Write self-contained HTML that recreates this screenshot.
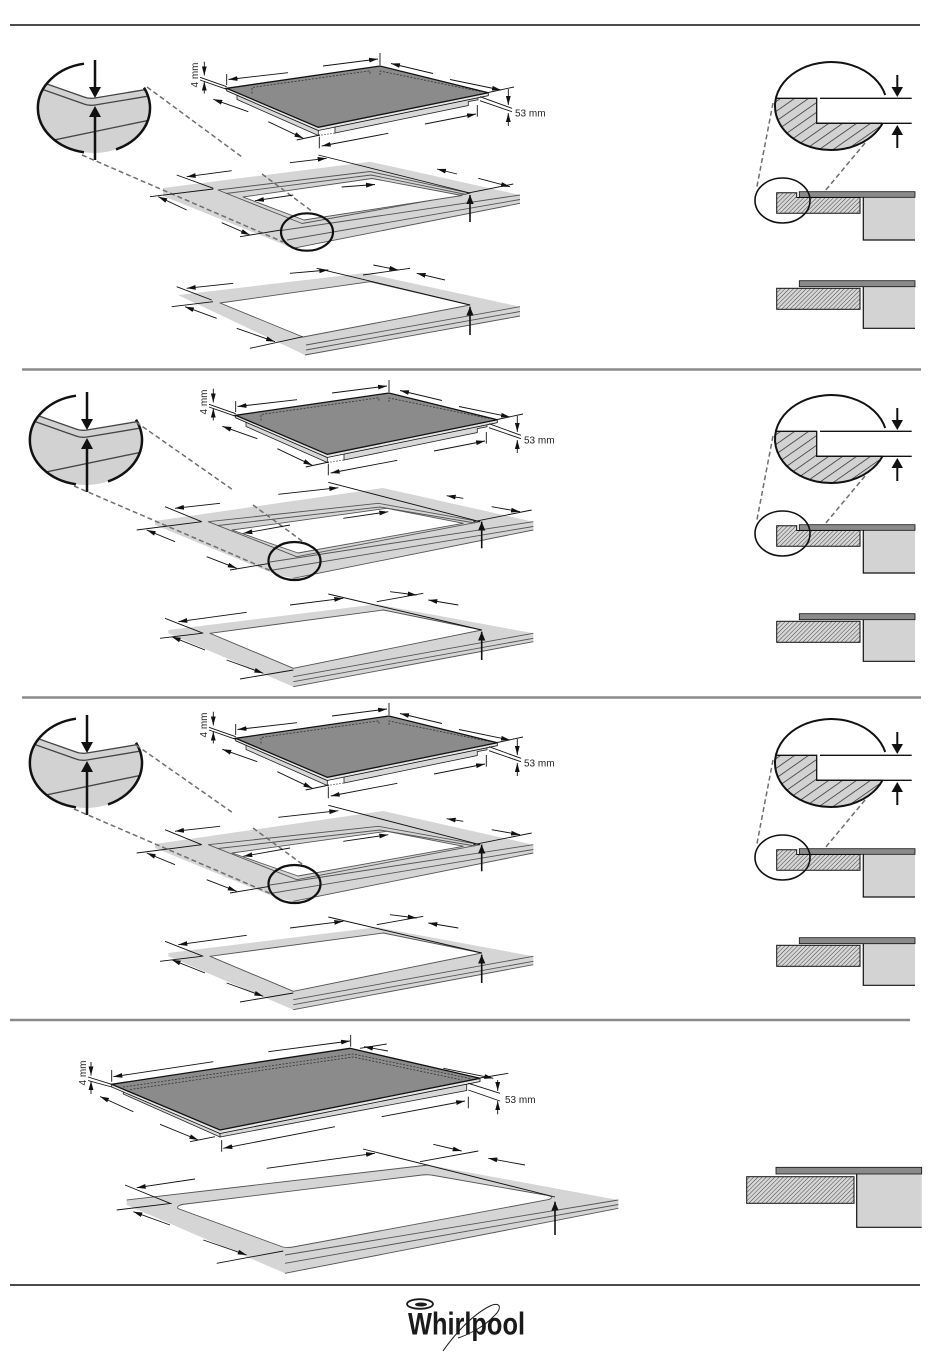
<!DOCTYPE html>
<html><head><meta charset="utf-8"><style>
html,body{margin:0;padding:0;background:#fff;}
svg{display:block;}
text{font-family:"Liberation Sans",sans-serif;}
.k{stroke:#111;stroke-width:0.9;fill:none}
.ka{stroke:#111;stroke-width:0.9;fill:none;marker-end:url(#a)}
.ub{stroke:#111;stroke-width:1.6;fill:none;marker-end:url(#b)}
.g{stroke:#555;stroke-width:0.9;fill:none;stroke-linejoin:round}
.dsh{stroke:#6e6e6e;stroke-width:1.5;stroke-dasharray:5,3;fill:none}
.t{font-size:10px;fill:#222}
</style></head><body>
<svg width="950" height="1360" viewBox="0 0 950 1360" xmlns="http://www.w3.org/2000/svg">
<defs>
<marker id="a" markerUnits="userSpaceOnUse" markerWidth="9" markerHeight="6" refX="9" refY="3" orient="auto"><path d="M0,0.6L9,3L0,5.4z" fill="#111"/></marker>
<marker id="b" markerUnits="userSpaceOnUse" markerWidth="9" markerHeight="9" refX="9" refY="4.5" orient="auto"><path d="M0,0.8L9,4.5L0,8.2z" fill="#111"/></marker>
<pattern id="hb" patternUnits="userSpaceOnUse" width="8" height="8" patternTransform="rotate(55)"><rect width="8" height="8" fill="#d2d2d2"/><line x1="0" y1="0" x2="0" y2="8" stroke="#222" stroke-width="1.4"/></pattern>
<pattern id="hs" patternUnits="userSpaceOnUse" width="3" height="3" patternTransform="rotate(45)"><rect width="3" height="3" fill="#d6d6d6"/><line x1="0" y1="0" x2="0" y2="3" stroke="#333" stroke-width="0.9"/></pattern>
<clipPath id="mc1"><ellipse cx="94" cy="108" rx="56" ry="45"/></clipPath>
<clipPath id="bc1"><ellipse cx="831" cy="106" rx="56" ry="44"/></clipPath>
</defs>

<line x1="10" y1="25" x2="920" y2="25" stroke="#111" stroke-width="1.5"/>
<line x1="22" y1="369.5" x2="921" y2="369.5" stroke="#8a8a8a" stroke-width="2.5"/>
<line x1="22" y1="697.5" x2="921" y2="697.5" stroke="#8a8a8a" stroke-width="2.5"/>
<line x1="10" y1="1020" x2="910" y2="1020" stroke="#8a8a8a" stroke-width="2.5"/>
<line x1="10" y1="1285" x2="920" y2="1285" stroke="#111" stroke-width="1.5"/>

<g id="mag1">
<g clip-path="url(#mc1)">
<path d="M30,78 L84,97 Q89,99 95,98 L155,88 L155,160 L30,160 Z" fill="#d2d2d2"/>
<path d="M30,78 L84,97 Q89,99 95,98 L155,88" fill="none" stroke="#444" stroke-width="1.3"/>
<path d="M30,85 L84,104 Q89,106 95,105 L155,95" fill="none" stroke="#444" stroke-width="1.3"/>
<path d="M30,145 L155,119" fill="none" stroke="#444" stroke-width="1.3"/>
</g>
<path d="M84,63.7 A56,45 0 0,0 84,152.3" fill="none" stroke="#111" stroke-width="2.5"/>
<path d="M116,149.4 A56,45 0 0,0 144,87.7" fill="none" stroke="#111" stroke-width="2.5"/>
<line x1="95" y1="60" x2="95" y2="89" stroke="#111" stroke-width="2.5"/>
<polygon points="89,87 101,87 95,98" fill="#111"/>
<line x1="95" y1="160" x2="95" y2="115" stroke="#111" stroke-width="2.5"/>
<polygon points="89,117 101,117 95,106" fill="#111"/>
</g>
<use href="#mag1" transform="translate(-8,332)"/>
<use href="#mag1" transform="translate(-8,655)"/>

<g id="hob1">
<polygon points="237,95 318.3,130.5 318.3,135.5 237,99.5" fill="#d8d8d8" stroke="#222" stroke-width="0.8"/>
<polygon points="335,126.8 468.3,99.6 478,97.6 478,99.8 468.3,101.6 468.3,105.5 335,133" fill="#d8d8d8" stroke="#222" stroke-width="0.8"/>
<polygon points="226.7,88.3 318.3,127.3 488.3,92.7 488.3,95.7 318.3,130.5 226.7,90.8" fill="#e6e6e6" stroke="#111" stroke-width="0.8"/>
<polygon points="226.7,88.3 380,66 488.3,92.7 318.3,127.3" fill="#8b8b8b" stroke="#111" stroke-width="1.3"/>
<polyline points="252,93.5 252,87.5 370,70.8 370,75" fill="none" stroke="#333" stroke-width="0.8" stroke-dasharray="2,1.5"/>
<polyline points="380,75 380,71 480,91.5" fill="none" stroke="#333" stroke-width="0.8" stroke-dasharray="2,1.5"/>
<line x1="318.3" y1="135.5" x2="335" y2="133" stroke="#444" stroke-width="0.8" stroke-dasharray="1.5,1.5"/>
<line class="k" x1="226.7" y1="74" x2="226.7" y2="85"/>
<line class="ka" x1="288" y1="72.7" x2="228.5" y2="79.5"/>
<line class="ka" x1="323" y1="66" x2="378" y2="59"/>
<line class="k" x1="380" y1="53" x2="380" y2="65"/>
<line class="ka" x1="433" y1="73.5" x2="391" y2="63.5"/>
<line class="ka" x1="450" y1="79.5" x2="501" y2="90"/>
<line class="k" x1="486" y1="93" x2="514" y2="87"/>
<line class="k" x1="480" y1="96.7" x2="512" y2="108.3"/>
<line class="k" x1="480" y1="100.7" x2="512" y2="111.7"/>
<line class="ka" x1="508.3" y1="89" x2="508.3" y2="105"/>
<line class="ka" x1="508.3" y1="126" x2="508.3" y2="113"/>
<text x="515" y="116.5" class="t">53 mm</text>
<text transform="translate(198,75) rotate(-90)" text-anchor="middle" class="t">4 mm</text>
<line class="ka" x1="204.3" y1="61.7" x2="204.3" y2="75.5"/>
<line class="ka" x1="204.3" y1="93.5" x2="204.3" y2="81.5"/>
<line class="k" x1="200" y1="77.3" x2="226.7" y2="86.7"/>
<line class="k" x1="200" y1="80" x2="226.7" y2="89.3"/>
<line class="ka" x1="248.3" y1="111.7" x2="213.3" y2="99.3"/>
<line class="ka" x1="268.3" y1="121.7" x2="303.3" y2="138.3"/>
<line class="k" x1="296.7" y1="140" x2="320" y2="135"/>
<line class="k" x1="319.3" y1="136.7" x2="319.3" y2="148.3"/>
<line class="ka" x1="388.3" y1="133.3" x2="321.7" y2="146"/>
<line class="ka" x1="425" y1="124" x2="476" y2="114"/>
<line class="k" x1="477.3" y1="105" x2="477.3" y2="116.7"/>
</g>
<use href="#hob1" transform="translate(9,327)"/>
<use href="#hob1" transform="translate(9,650)"/>

<polygon points="163,188 370,161.7 520,195 520,203.3 293,248.3 163,196" fill="#d5d5d5"/>
<polygon class="g" points="218,190 370,171.5 470,193.3 302,223.5"/>
<polyline class="g" points="226,193.5 371,175 466,194.5"/>
<polygon points="243,197 372,178.5 462,195.5 304,220" fill="#fff" stroke="#555" stroke-width="0.9" stroke-linejoin="round"/>
<line class="g" x1="281" y1="230.5" x2="520" y2="195"/>
<line class="g" x1="287" y1="240" x2="520" y2="199.5"/>
<line class="g" x1="293" y1="248.3" x2="520" y2="203.3"/>
<line class="dsh" x1="147" y1="87" x2="242" y2="157"/>
<line class="dsh" x1="262" y1="174" x2="313" y2="212"/>
<line class="dsh" x1="82" y1="155" x2="283" y2="242"/>
<ellipse cx="307" cy="232" rx="26" ry="18.7" fill="none" stroke="#111" stroke-width="2.2"/>
<line class="k" x1="176.7" y1="175" x2="213.3" y2="188.3"/>
<line class="ka" x1="231.7" y1="170.7" x2="186.7" y2="176.7"/>
<line class="k" x1="150" y1="196.7" x2="213.3" y2="189"/>
<line class="ka" x1="186.7" y1="210" x2="158.3" y2="196.7"/>
<line class="ka" x1="221.7" y1="222.7" x2="250" y2="235"/>
<line class="k" x1="240" y1="236.7" x2="281" y2="230"/>
<line class="ka" x1="290" y1="162.7" x2="326.7" y2="158.3"/>
<line class="k" x1="318.3" y1="155" x2="470" y2="193"/>
<line class="ka" x1="457" y1="174" x2="437" y2="169"/>
<line class="ka" x1="478.3" y1="178.3" x2="510" y2="186.7"/>
<line class="k" x1="466.7" y1="193.3" x2="513.3" y2="184"/>
<line class="ka" x1="341.7" y1="187" x2="375" y2="184.5"/>
<line class="ka" x1="293.3" y1="195" x2="255" y2="200.7"/>
<line class="ub" x1="470" y1="222" x2="470" y2="195"/>

<polygon points="178,295 365,273 520,306.7 520,316 305,355" fill="#d5d5d5"/>
<polygon points="220,303 370,281.7 470,305 303,337" fill="#fff" stroke="#555" stroke-width="0.9" stroke-linejoin="round"/>
<line class="g" x1="306" y1="345" x2="520" y2="306.7"/>
<line class="g" x1="306" y1="350" x2="520" y2="311.5"/>
<line class="g" x1="305" y1="355" x2="520" y2="316"/>
<line class="k" x1="176.7" y1="286.7" x2="211.7" y2="300"/>
<line class="ka" x1="233.3" y1="283.3" x2="186.7" y2="288.3"/>
<line class="k" x1="171.7" y1="306.7" x2="213" y2="301.7"/>
<line class="ka" x1="216.7" y1="318.3" x2="185" y2="306.7"/>
<line class="ka" x1="236.7" y1="328.3" x2="275" y2="341.7"/>
<line class="k" x1="250" y1="348.3" x2="303" y2="336.7"/>
<line class="ka" x1="290" y1="273.3" x2="328.3" y2="270"/>
<line class="k" x1="316.7" y1="268.3" x2="470" y2="305"/>
<line class="ka" x1="373.3" y1="265" x2="398.3" y2="270"/>
<line class="k" x1="363" y1="275" x2="410" y2="268.3"/>
<line class="ka" x1="445" y1="280" x2="416.7" y2="273.3"/>
<line class="ub" x1="470" y1="335" x2="470" y2="306.7"/>

<g id="left2">
<polygon points="155,521 383,488 533.3,521.7 533.3,530 293.3,578.3 277,575 155,525" fill="#d5d5d5"/>
<polygon class="g" points="208.3,521.7 378.3,503.3 480,521.7 296.7,556.7"/>
<polyline class="g" points="218,525.5 380,507 475,523"/>
<polygon points="232,530 386.7,508.3 463.3,523.3 298,553" fill="#fff" stroke="#555" stroke-width="0.9" stroke-linejoin="round"/>
<line class="g" x1="270" y1="562" x2="533.3" y2="521.7"/>
<line class="g" x1="273" y1="570" x2="533.3" y2="526.5"/>
<line class="g" x1="293.3" y1="578.3" x2="533.3" y2="530"/>
<line class="dsh" x1="136" y1="422" x2="233" y2="490"/>
<line class="dsh" x1="253" y1="505" x2="303" y2="541.7"/>
<line class="dsh" x1="74" y1="486" x2="273" y2="571.7"/>
<ellipse cx="294.5" cy="561" rx="26" ry="19" fill="none" stroke="#111" stroke-width="2.2"/>
<line class="k" x1="165" y1="506.7" x2="201.7" y2="521.7"/>
<line class="ka" x1="220" y1="503.3" x2="175" y2="508.3"/>
<line class="k" x1="136.7" y1="530" x2="201.7" y2="521.7"/>
<line class="ka" x1="175" y1="541.7" x2="146.7" y2="530"/>
<line class="ka" x1="206.7" y1="556.7" x2="236.7" y2="568.3"/>
<line class="k" x1="230" y1="570" x2="270" y2="563.3"/>
<line class="ka" x1="278.3" y1="494.3" x2="338.3" y2="487.7"/>
<line class="k" x1="328.3" y1="482.3" x2="480" y2="521.7"/>
<line class="ka" x1="463.3" y1="498.3" x2="446.7" y2="495.7"/>
<line class="ka" x1="491.7" y1="506.7" x2="520" y2="511.7"/>
<line class="k" x1="473.3" y1="521.7" x2="531.7" y2="510"/>
<line class="ka" x1="343.3" y1="518.3" x2="388.3" y2="511.7"/>
<line class="ka" x1="290" y1="525" x2="243.3" y2="533.3"/>
<line class="ub" x1="481.7" y1="548.3" x2="481.7" y2="521.7"/>

<polygon points="168.3,630 376.7,604.3 533.3,633.3 533.3,641.7 293.3,686.7 168.3,633.3" fill="#d5d5d5"/>
<polygon points="210,633.3 383.3,610 481.7,630 293.3,668.3" fill="#fff" stroke="#555" stroke-width="0.9" stroke-linejoin="round"/>
<line class="g" x1="293.3" y1="676.7" x2="533.3" y2="633.3"/>
<line class="g" x1="293.3" y1="681.7" x2="533.3" y2="638.3"/>
<line class="g" x1="293.3" y1="686.7" x2="533.3" y2="641.7"/>
<line class="k" x1="165" y1="618.3" x2="203.3" y2="633.3"/>
<line class="ka" x1="246.7" y1="612.3" x2="178.3" y2="621.7"/>
<line class="k" x1="160" y1="638.3" x2="201.7" y2="633.3"/>
<line class="ka" x1="205" y1="650" x2="171.7" y2="636.7"/>
<line class="ka" x1="226.7" y1="660" x2="263.3" y2="673.3"/>
<line class="k" x1="240" y1="679" x2="293.3" y2="670"/>
<line class="ka" x1="290" y1="605" x2="343.3" y2="598.3"/>
<line class="k" x1="328.3" y1="594" x2="481.7" y2="630"/>
<line class="ka" x1="390" y1="591.7" x2="416.7" y2="595"/>
<line class="k" x1="376.7" y1="601.7" x2="423.3" y2="593.3"/>
<line class="ka" x1="458.3" y1="605" x2="428.3" y2="600"/>
<line class="ub" x1="481.7" y1="660" x2="481.7" y2="631.7"/>
</g>
<use href="#left2" transform="translate(0,323)"/>

<g id="xs1">
<path d="M770,98.3 L816.7,98.3 L816.7,123.3 L892,123.3 L892,160 L770,160 Z" fill="url(#hb)" clip-path="url(#bc1)"/>
<path d="M775.9,98.3 L816.7,98.3 L816.7,123.3 L882.5,123.3" fill="none" stroke="#111" stroke-width="1.3"/>
<line x1="820" y1="98.3" x2="911.7" y2="98.3" stroke="#111" stroke-width="1.3"/>
<line x1="816.7" y1="123.3" x2="911.7" y2="123.3" stroke="#111" stroke-width="1.3"/>
<path d="M885.2,95 A56,44 0 1,0 882.5,123.3" fill="none" stroke="#111" stroke-width="2"/>
<line x1="897.3" y1="75" x2="897.3" y2="89" stroke="#111" stroke-width="2"/>
<polygon points="891.5,87 903,87 897.3,97" fill="#111"/>
<line x1="897.3" y1="148" x2="897.3" y2="133" stroke="#111" stroke-width="2"/>
<polygon points="891.5,135 903,135 897.3,125" fill="#111"/>
<line class="dsh" x1="773" y1="103" x2="756.7" y2="188"/>
<line class="dsh" x1="865" y1="143" x2="815" y2="203"/>
<rect x="863.3" y="197.5" width="51.7" height="42.5" fill="#d3d3d3"/>
<polyline points="863.3,197.5 863.3,240 915,240" fill="none" stroke="#111" stroke-width="1.2"/>
<polygon points="776.7,192.7 796.7,192.7 796.7,197.5 860,197.5 860,213.3 776.7,213.3" fill="url(#hs)" stroke="#111" stroke-width="1"/>
<rect x="799.3" y="191.7" width="115.7" height="5.6" fill="#8a8a8a" stroke="#111" stroke-width="0.8"/>
<ellipse cx="782.5" cy="200.5" rx="27.5" ry="22.5" fill="none" stroke="#111" stroke-width="1.6"/>
<rect x="863.3" y="286.7" width="51.7" height="41.6" fill="#d3d3d3"/>
<polyline points="863.3,286.7 863.3,328.3 915,328.3" fill="none" stroke="#111" stroke-width="1.2"/>
<rect x="776.7" y="288.3" width="83.3" height="21" fill="url(#hs)" stroke="#111" stroke-width="1"/>
<rect x="799.3" y="280.7" width="115.7" height="6" fill="#8a8a8a" stroke="#111" stroke-width="0.8"/>
</g>
<use href="#xs1" transform="translate(0,333)"/>
<use href="#xs1" transform="translate(0,657)"/>

<polygon points="123.3,1090 220,1133.5 220,1137 123.3,1094" fill="#d8d8d8" stroke="#222" stroke-width="0.8"/>
<polygon points="220,1133.5 466.7,1084 466.7,1090.5 220,1137" fill="#d8d8d8" stroke="#222" stroke-width="0.8"/>
<polygon points="111.7,1084.3 220,1130 480,1078.3 480,1081.5 220,1133.5 111.7,1087" fill="#e6e6e6" stroke="#111" stroke-width="0.8"/>
<polygon points="111.7,1084.3 350,1048.3 480,1078.3 220,1130" fill="#8b8b8b" stroke="#111" stroke-width="1.3"/>
<polyline points="123,1087 353,1054 470,1078.5" fill="none" stroke="#333" stroke-width="0.8" stroke-dasharray="2,1.5"/>
<polyline points="130,1089.5 353,1057 462,1080" fill="none" stroke="#333" stroke-width="0.8" stroke-dasharray="2,1.5"/>
<line class="k" x1="111.7" y1="1070" x2="111.7" y2="1081.7"/>
<line class="ka" x1="213.3" y1="1061.7" x2="113.3" y2="1076.7"/>
<line class="ka" x1="268.3" y1="1051.7" x2="350" y2="1041"/>
<line class="k" x1="350.7" y1="1035" x2="350.7" y2="1046.7"/>
<line class="ka" x1="388" y1="1051" x2="364" y2="1046.7"/>
<line class="k" x1="360" y1="1048.3" x2="386.7" y2="1044"/>
<line class="ka" x1="443.3" y1="1068.3" x2="493.3" y2="1078.3"/>
<line class="k" x1="480" y1="1078" x2="508.3" y2="1073.3"/>
<line class="k" x1="468.3" y1="1083.3" x2="500" y2="1093.3"/>
<line class="k" x1="468.3" y1="1090" x2="500" y2="1101"/>
<line class="ka" x1="497.7" y1="1080" x2="497.7" y2="1091"/>
<line class="ka" x1="497.7" y1="1114.3" x2="497.7" y2="1101"/>
<text x="505" y="1103" class="t">53 mm</text>
<text transform="translate(86,1073) rotate(-90)" text-anchor="middle" class="t">4 mm</text>
<line class="ka" x1="91" y1="1062" x2="91" y2="1075.5"/>
<line class="ka" x1="91" y1="1094" x2="91" y2="1081"/>
<line class="k" x1="88" y1="1077" x2="111.7" y2="1084.3"/>
<line class="k" x1="88" y1="1080.5" x2="111.7" y2="1087"/>
<line class="ka" x1="133.3" y1="1111.7" x2="100" y2="1096.5"/>
<line class="ka" x1="160" y1="1124.3" x2="198.3" y2="1140"/>
<line class="k" x1="190" y1="1141.7" x2="215" y2="1136.7"/>
<line class="k" x1="221.7" y1="1140" x2="221.7" y2="1151.7"/>
<line class="ka" x1="335" y1="1126.7" x2="223.3" y2="1148.3"/>
<line class="ka" x1="381.7" y1="1116.7" x2="465" y2="1101"/>
<line class="k" x1="468.3" y1="1096.7" x2="468.3" y2="1108.3"/>

<polygon points="126.7,1200 428.3,1165 618.3,1200 618.3,1208.3 285,1273.3 126.7,1205" fill="#d5d5d5"/>
<line class="g" x1="126.7" y1="1200" x2="428.3" y2="1165"/>
<path d="M186,1204 L422,1175 Q428.3,1174.3 434,1175.5 L548,1195.5 Q555,1197 549,1199.5 L293,1247 Q285,1248.3 280,1246 L178,1208.5 Q176,1205 186,1204 Z" fill="#fff" stroke="#555" stroke-width="0.9"/>
<line class="g" x1="285" y1="1255" x2="618.3" y2="1200"/>
<line class="g" x1="285" y1="1263.3" x2="618.3" y2="1204.5"/>
<line class="g" x1="285" y1="1273.3" x2="618.3" y2="1208.3"/>
<line class="k" x1="125" y1="1185" x2="170" y2="1203.3"/>
<line class="ka" x1="195" y1="1179" x2="136.7" y2="1187.7"/>
<line class="k" x1="116.7" y1="1210" x2="171.7" y2="1203.3"/>
<line class="ka" x1="170" y1="1225" x2="133.3" y2="1211.7"/>
<line class="ka" x1="203.3" y1="1240" x2="246.7" y2="1255"/>
<line class="k" x1="216.7" y1="1263.3" x2="283.3" y2="1251"/>
<line class="ka" x1="266.7" y1="1168.3" x2="375" y2="1153.3"/>
<line class="k" x1="363" y1="1149" x2="555" y2="1197"/>
<line class="ka" x1="433.3" y1="1144.3" x2="461.7" y2="1151"/>
<line class="k" x1="420" y1="1161.7" x2="478.3" y2="1151"/>
<line class="ka" x1="525" y1="1165" x2="488.3" y2="1158.3"/>
<line class="ub" x1="555" y1="1235" x2="555" y2="1201.7"/>

<rect x="856.7" y="1174" width="65" height="53.3" fill="#d3d3d3"/>
<polyline points="856.7,1174 856.7,1227.3 921.7,1227.3" fill="none" stroke="#111" stroke-width="1.2"/>
<rect x="746.7" y="1176.7" width="107.3" height="26.6" fill="url(#hs)" stroke="#111" stroke-width="1"/>
<rect x="776" y="1167.3" width="145.7" height="6.7" fill="#8a8a8a" stroke="#111" stroke-width="0.8"/>

<ellipse cx="420" cy="1304" rx="13" ry="4.8" fill="none" stroke="#1a1a1a" stroke-width="1.8"/>
<ellipse cx="421" cy="1304.5" rx="6" ry="2" fill="#1a1a1a"/>
<text x="408" y="1334.5" font-size="31.5" font-weight="bold" textLength="117" lengthAdjust="spacingAndGlyphs" fill="#1a1a1a">Whirlpool</text>
<path d="M443,1351 C452,1338 470,1316 490,1306 C500,1301 503,1308 494,1316 C485,1326 470,1334 458,1338" fill="none" stroke="#1a1a1a" stroke-width="1"/>
</svg>
</body></html>
